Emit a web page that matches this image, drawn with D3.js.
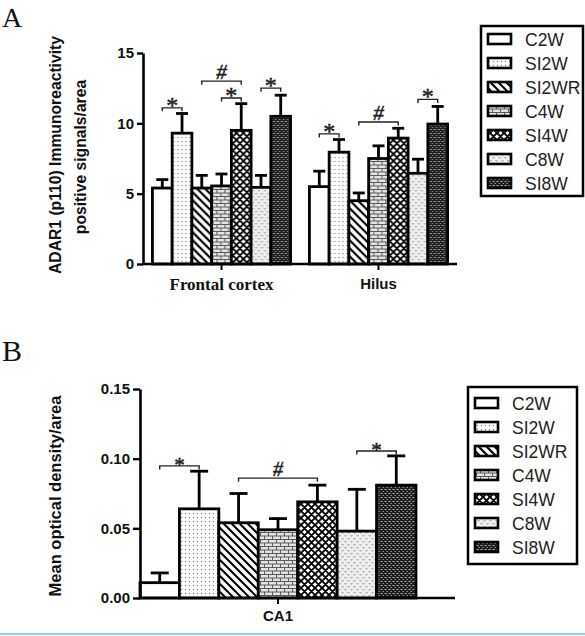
<!DOCTYPE html>
<html>
<head>
<meta charset="utf-8">
<script src="https://cdn.jsdelivr.net/npm/d3@7"></script>
<style>
  html, body { margin: 0; padding: 0; background: #fff; }
  svg { display: block; }
</style>
</head>
<body>
<svg id="chart" width="585" height="636"></svg>
<script>
// ---------- DATA ----------
const series = ["C2W", "SI2W", "SI2WR", "C4W", "SI4W", "C8W", "SI8W"];

// Panel A
const regionsA = ["Frontal cortex", "Hilus"];
const frontalMean = [5.4, 9.3, 5.4, 5.55, 9.5, 5.45, 10.5];
const frontalErr  = [0.6, 1.4, 0.9, 0.85, 1.9, 0.85, 1.5];
const hilusMean   = [5.5, 7.95, 4.5, 7.5, 8.95, 6.45, 9.95];
const hilusErr    = [1.1, 0.9, 0.55, 0.9, 0.7, 1.0, 1.25];
const ticksA = [0, 5, 10, 15];
const labelA1 = "ADAR1 (p110) Immunoreactivity";
const labelA2 = "positive signals/area";
// significance brackets: [region, from series, to series, level, symbol]
const bracketsA = [
  ["Frontal cortex", "C2W", "SI2W", 11.1, "*"],
  ["Frontal cortex", "SI2WR", "SI4W", 13.0, "#"],
  ["Frontal cortex", "C4W", "SI4W", 11.8, "*"],
  ["Frontal cortex", "C8W", "SI8W", 12.5, "*"],
  ["Hilus", "C2W", "SI2W", 9.25, "*"],
  ["Hilus", "SI2WR", "SI4W", 10.1, "#"],
  ["Hilus", "C8W", "SI8W", 11.7, "*"]
];

// Panel B
const regionsB = ["CA1"];
const ca1Mean = [0.011, 0.064, 0.054, 0.049, 0.069, 0.048, 0.081];
const ca1Err  = [0.007, 0.027, 0.021, 0.008, 0.012, 0.030, 0.021];
const ticksB = [0, 0.05, 0.10, 0.15];
const labelB = "Mean optical density/area";
const bracketsB = [
  ["CA1", "C2W", "SI2W", 0.0948, "*"],
  ["CA1", "SI2WR", "SI4W", 0.086, "#"],
  ["CA1", "C8W", "SI8W", 0.1055, "*"]
];

// ---------- DRAW ----------
const svg = d3.select("#chart");
const SANS = "'Liberation Sans', Arial, Helvetica, sans-serif";
const SERIF = "'Liberation Serif', 'Times New Roman', serif";

const defs = svg.append("defs");
function pattern(id, w, h) {
  return defs.append("pattern").attr("id", id)
    .attr("patternUnits", "userSpaceOnUse").attr("width", w).attr("height", h);
}
// SI2W : dots
{ const p = pattern("p-SI2W", 4, 4);
  p.append("rect").attr("width", 4).attr("height", 4).attr("fill", "#fff");
  p.append("circle").attr("cx", 1.5).attr("cy", 1.5).attr("r", 0.65).attr("fill", "#7a7a7a"); }
// SI2WR : diagonal "\" lines
{ const s = 8, p = pattern("p-SI2WR", s, s);
  p.append("rect").attr("width", s).attr("height", s).attr("fill", "#fff");
  let d = "";
  [-s, 0, s].forEach(c => { d += `M-1,${-1 + c} L${s + 1},${s + 1 + c} `; });
  p.append("path").attr("d", d).attr("stroke", "#000").attr("stroke-width", 2.1).attr("fill", "none"); }
// C4W : brick
{ const p = pattern("p-C4W", 8, 7);
  p.append("rect").attr("width", 8).attr("height", 7).attr("fill", "#e4e4e4");
  p.append("path").attr("d", "M0,0.5 H8 M0,4 H8 M0.5,0.5 V4 M4.5,4 V7")
    .attr("stroke", "#5a5a5a").attr("stroke-width", 1).attr("fill", "none"); }
// SI4W : crosshatch
{ const s = 7, p = pattern("p-SI4W", s, s);
  p.append("rect").attr("width", s).attr("height", s).attr("fill", "#fff");
  let d = "";
  [-s, 0, s].forEach(c => {
    d += `M-1,${-1 + c} L${s + 1},${s + 1 + c} `;
    d += `M-1,${s + 1 + c} L${s + 1},${-1 + c} `;
  });
  p.append("path").attr("d", d).attr("stroke", "#000").attr("stroke-width", 1.9).attr("fill", "none"); }
// C8W : light speckle
{ const p = pattern("p-C8W", 6, 6);
  p.append("rect").attr("width", 6).attr("height", 6).attr("fill", "#efefef");
  p.append("path").attr("d", "M0.5,1 L1.5,2.4 L2.5,1 M3.5,4 L4.5,5.4 L5.5,4")
    .attr("stroke", "#8c8c8c").attr("stroke-width", 0.8).attr("fill", "none"); }
// SI8W : dark with light dashes
{ const p = pattern("p-SI8W", 4, 4);
  p.append("rect").attr("width", 4).attr("height", 4).attr("fill", "#1c1c1c");
  p.append("rect").attr("x", 0.5).attr("y", 1).attr("width", 2).attr("height", 0.9).attr("fill", "#c8c8c8");
  p.append("rect").attr("x", 2.5).attr("y", 3).attr("width", 1.5).attr("height", 0.9).attr("fill", "#9a9a9a"); }

const fillOf = s => s === "C2W" ? "#fff" : `url(#p-${s})`;

function drawPanel(cfg) {
  const g = svg.append("g");
  const y = d3.scaleLinear().domain(cfg.yDomain).range([cfg.y0, cfg.yTop]);
  const x = d3.scaleBand().domain(cfg.regions).range(cfg.xRange)
    .paddingInner(cfg.padInner).paddingOuter(cfg.padOuter).align(cfg.align);
  const xs = d3.scaleBand().domain(series).range([0, x.bandwidth()]).padding(0);

  // bars
  cfg.regions.forEach((r, ri) => {
    const means = cfg.means[ri], errs = cfg.errs[ri];
    const gr = g.append("g").attr("transform", `translate(${x(r)},0)`);
    series.forEach((s, i) => {
      const cx = xs(s) + xs.bandwidth() / 2;
      gr.append("line").attr("x1", cx).attr("x2", cx)
        .attr("y1", y(means[i])).attr("y2", y(means[i] + errs[i]))
        .attr("stroke", "#000").attr("stroke-width", 2.8);
      gr.append("line").attr("x1", cx - cfg.cap / 2).attr("x2", cx + cfg.cap / 2)
        .attr("y1", y(means[i] + errs[i])).attr("y2", y(means[i] + errs[i]))
        .attr("stroke", "#000").attr("stroke-width", 2.8);
    });
    gr.selectAll("rect.bar").data(series).join("rect").attr("class", "bar")
      .attr("x", s => xs(s)).attr("width", xs.bandwidth())
      .attr("y", (s, i) => y(means[i])).attr("height", (s, i) => y(0) - y(means[i]))
      .attr("fill", fillOf).attr("stroke", "#000").attr("stroke-width", 2.8);
  });

  // brackets
  cfg.brackets.forEach(([r, a, b, lvl, sym]) => {
    const xa = x(r) + xs(a) + xs.bandwidth() / 2;
    const xb = x(r) + xs(b) + xs.bandwidth() / 2;
    const yy = y(lvl);
    g.append("path").attr("d", `M${xa},${yy + 3.5} V${yy} H${xb} V${yy + 3.5}`)
      .attr("fill", "none").attr("stroke", "#222").attr("stroke-width", 1.4);
    g.append("text").attr("x", (xa + xb) / 2)
      .attr("y", sym === "*" ? yy + cfg.starDy : yy - 2)
      .attr("text-anchor", "middle")
      .attr("font-family", SERIF)
      .attr("font-style", sym === "#" ? "italic" : "normal")
      .attr("font-size", sym === "*" ? cfg.starSize : cfg.hashSize)
      .attr("fill", "#222").attr("stroke", "#222").attr("stroke-width", 0.5)
      .text(sym);
  });

  // y axis
  const ya = g.append("g").attr("transform", `translate(${cfg.xRange[0]},0)`)
    .call(d3.axisLeft(y).tickValues(cfg.ticks).tickFormat(cfg.tickFmt)
      .tickSize(cfg.tickLen).tickSizeOuter(0).tickPadding(3));
  ya.select(".domain").attr("stroke", "#000").attr("stroke-width", 2.6);
  ya.selectAll(".tick line").attr("stroke", "#000").attr("stroke-width", 2.4);
  ya.selectAll(".tick text").attr("font-family", SANS).attr("font-weight", "bold")
    .attr("font-size", 15).attr("fill", "#111");

  // x axis
  const xa = g.append("g").attr("transform", `translate(0,${cfg.y0})`)
    .call(d3.axisBottom(x).tickSize(6).tickSizeOuter(0).tickPadding(cfg.xLabelPad));
  xa.select(".domain").attr("d", `M${cfg.xRange[0]},0 H${cfg.xEnd}`)
    .attr("stroke", "#000").attr("stroke-width", 2.6);
  xa.selectAll(".tick line").attr("stroke", "#000").attr("stroke-width", 2);
  xa.selectAll(".tick text")
    .attr("font-family", (d, i) => cfg.xFonts[i]).attr("font-weight", "bold")
    .attr("font-size", (d, i) => cfg.xSizes[i]).attr("fill", "#111");

  // legend
  const lg = g.append("g");
  lg.append("rect").attr("x", cfg.leg.x).attr("y", cfg.leg.y)
    .attr("width", cfg.leg.w).attr("height", cfg.leg.h)
    .attr("fill", "#fff").attr("stroke", "#000").attr("stroke-width", 2.5);
  series.forEach((s, i) => {
    const cy = cfg.leg.row0 + i * 24;
    lg.append("rect").attr("x", cfg.leg.x + 7).attr("y", cy - 5)
      .attr("width", 23).attr("height", 10)
      .attr("fill", fillOf(s)).attr("stroke", "#000").attr("stroke-width", 2.6);
    lg.append("text").attr("x", cfg.leg.x + cfg.leg.tx).attr("y", cy + 6.5)
      .attr("font-family", SANS).attr("font-size", 17.5).attr("fill", "#222").text(s);
  });
  return g;
}

// Panel A
drawPanel({
  regions: regionsA, means: [frontalMean, hilusMean], errs: [frontalErr, hilusErr],
  yDomain: [0, 15], y0: 264, yTop: 53, ticks: ticksA, tickFmt: d3.format("d"), tickLen: 6,
  xRange: [143, 457], xEnd: 457, padInner: 0.12, padOuter: 0.06, align: 0.5,
  cap: 12, brackets: bracketsA, starSize: 24, starDy: 5, hashSize: 21,
  xLabelPad: 8, xFonts: [SERIF, SANS], xSizes: [17, 15],
  leg: { x: 481, y: 26, w: 102, h: 170, row0: 39, tx: 44 }
});

// Panel B
drawPanel({
  regions: regionsB, means: [ca1Mean], errs: [ca1Err],
  yDomain: [0, 0.15], y0: 598, yTop: 389, ticks: ticksB, tickFmt: d3.format(".2f"), tickLen: 7,
  xRange: [140, 455], xEnd: 455, padInner: 0, padOuter: 0.0707, align: 0,
  cap: 18, brackets: bracketsB, starSize: 21, starDy: 6, hashSize: 20,
  xLabelPad: 6, xFonts: [SANS], xSizes: [15],
  leg: { x: 468, y: 387, w: 109, h: 177, row0: 403, tx: 44 }
});

// panel letters
svg.append("text").attr("x", 2).attr("y", 27).attr("font-family", SERIF)
  .attr("font-size", 28).attr("fill", "#111").text("A");
svg.append("text").attr("x", 2).attr("y", 361).attr("font-family", SERIF)
  .attr("font-size", 30).attr("fill", "#111").text("B");

// y labels
function yLabel(txt, bx, cy, size) {
  svg.append("text").attr("transform", `translate(${bx},${cy}) rotate(-90)`)
    .attr("text-anchor", "middle").attr("font-family", SANS).attr("font-weight", "bold")
    .attr("font-size", size).attr("fill", "#111").text(txt);
}
yLabel(labelA1, 61, 155, 15.7);
yLabel(labelA2, 86, 157, 15.7);
yLabel(labelB, 61, 496, 16.5);

// bottom rule
svg.append("line").attr("x1", 0).attr("x2", 585).attr("y1", 634).attr("y2", 634)
  .attr("stroke", "#8fd3f6").attr("stroke-width", 2);
</script>
</body>
</html>
